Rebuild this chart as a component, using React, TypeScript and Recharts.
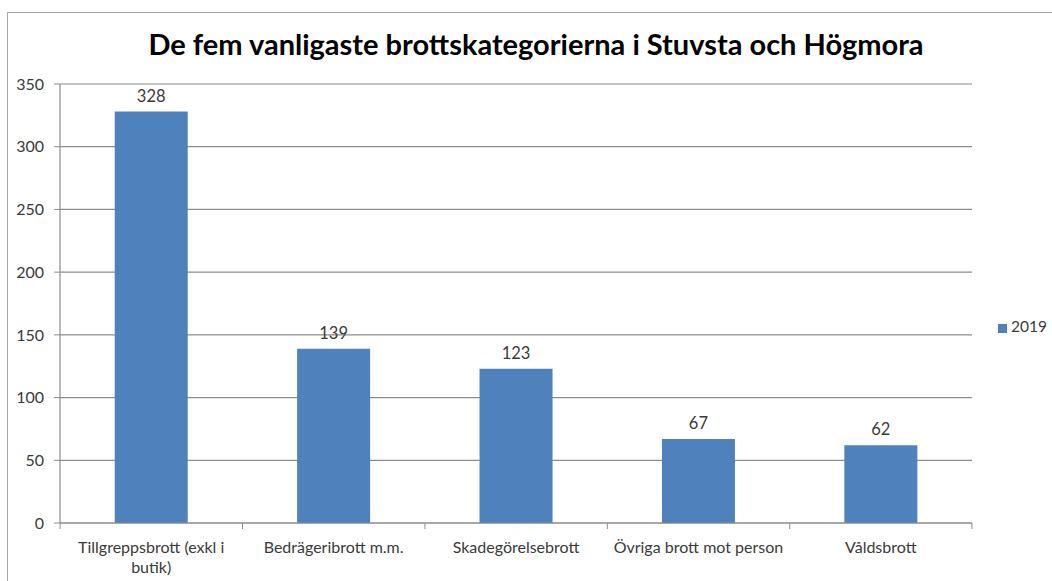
import React from "react";
import {
  BarChart,
  Bar,
  XAxis,
  YAxis,
  CartesianGrid,
  Legend,
  LabelList,
  Text
} from "recharts";

const categories = [
  "Tillgreppsbrott (exkl i butik)",
  "Bedrägeribrott m.m.",
  "Skadegörelsebrott",
  "Övriga brott mot person",
  "Våldsbrott"
];
const values2019 = [328, 139, 123, 67, 62];
const yTicks = [0, 50, 100, 150, 200, 250, 300, 350];

const data = categories.map((name, i) => ({ name, v2019: values2019[i] }));

const FONT = "Lato, 'Open Sans', sans-serif";
const GRID = "#8c8c8c";
const BLUE = "#4F81BD";

const W = 1052;
const H = 581;
// legend width is added to the right offset by recharts, so keep this small
const M = { top: 84, right: 21, bottom: 0, left: 0 };
const Y_W = 60;
const BAND = (971 - Y_W) / categories.length;

function CatTick(props: any) {
  const { x, y, payload, index } = props;
  return (
    <g>
      <line x1={x - BAND / 2} x2={x - BAND / 2} y1={y - 8} y2={y - 2} stroke={GRID} />
      {index === categories.length - 1 && (
        <line x1={x + BAND / 2} x2={x + BAND / 2} y1={y - 8} y2={y - 2} stroke={GRID} />
      )}
      <Text
        x={x}
        y={y + 11}
        width={178}
        textAnchor="middle"
        verticalAnchor="start"
        lineHeight={20}
        fontSize={16}
        fontFamily={FONT}
        fill="#3a3a3a"
      >
        {payload.value}
      </Text>
    </g>
  );
}

export default function App() {
  return (
    <div style={{ position: "absolute", left: 0, top: 0, width: W, height: H, background: "#fff", overflow: "hidden" }}>
      <div
        style={{
          position: "absolute",
          left: 7,
          top: 12,
          width: W,
          height: H,
          borderLeft: "1.5px solid #a6a6a6",
          borderTop: "1.5px solid #a6a6a6"
        }}
      />
      <div
        style={{
          position: "absolute",
          left: 0,
          top: 26,
          width: 1072,
          textAlign: "center",
          fontFamily: FONT,
          fontWeight: 700,
          fontSize: 29,
          color: "#000"
        }}
      >
        De fem vanligaste brottskategorierna i Stuvsta och Högmora
      </div>
      <BarChart width={W} height={H} data={data} margin={M} barCategoryGap="30%">
        <CartesianGrid vertical={false} stroke={GRID} strokeWidth={1.2} />
        <XAxis
          dataKey="name"
          height={58}
          tickLine={false}
          axisLine={{ stroke: GRID, strokeWidth: 1.2 }}
          interval={0}
          tick={<CatTick />}
        />
        <YAxis
          width={Y_W}
          domain={[0, 350]}
          ticks={yTicks}
          tickMargin={10}
          axisLine={{ stroke: GRID, strokeWidth: 1.2 }}
          tickLine={{ stroke: GRID }}
          tick={{ fontSize: 16, fontFamily: FONT, fill: "#3a3a3a" }}
        />
        <Legend
          layout="horizontal"
          verticalAlign="middle"
          align="right"
          iconType="square"
          iconSize={9}
          wrapperStyle={{
            left: 998,
            top: 317,
            width: "auto",
            fontFamily: FONT,
            fontSize: 15.5,
            color: "#3a3a3a"
          }}
          formatter={(v: string) => <span style={{ color: "#3a3a3a" }}>{v}</span>}
        />
        <Bar dataKey="v2019" name="2019" fill={BLUE} isAnimationActive={false}>
          <LabelList
            dataKey="v2019"
            position="top"
            offset={10}
            style={{ fontSize: 16.5, fontFamily: FONT, fill: "#3a3a3a" }}
          />
        </Bar>
      </BarChart>
    </div>
  );
}
